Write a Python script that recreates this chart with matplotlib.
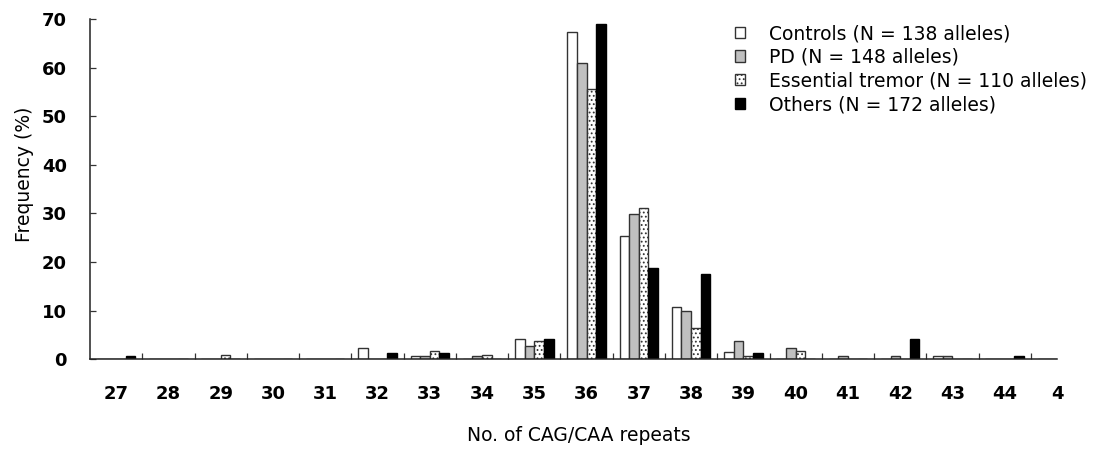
import numpy as np
import matplotlib
matplotlib.use('Agg')
import matplotlib.pyplot as plt
from matplotlib.ticker import FixedLocator

# CAG/CAA repeat sizes and allele frequencies (%) per group
repeats = list(range(27, 46))
tick_labels = [str(r) for r in repeats[:-1]] + ['4']   # last label is cut in the original

controls = [0, 0, 0, 0, 0, 2.3, 0.7, 0, 4.1, 67.4, 25.4, 10.7, 1.6, 0, 0, 0, 0.7, 0, 0]
pd_vals = [0, 0, 0, 0, 0, 0, 0.7, 0.7, 2.8, 60.9, 29.9, 9.9, 3.8, 2.4, 0.7, 0.7, 0.7, 0, 0]
tremor = [0, 0, 0.9, 0, 0, 0, 1.8, 0.9, 3.7, 55.7, 31.1, 6.4, 0.7, 1.7, 0, 0, 0, 0, 0]
others = [0.6, 0, 0, 0, 0, 1.3, 1.3, 0, 4.1, 68.9, 18.8, 17.5, 1.3, 0, 0, 4.1, 0, 0.6, 0]

labels = ['Controls (N = 138 alleles)', 'PD (N = 148 alleles)',
          'Essential tremor (N = 110 alleles)', 'Others (N = 172 alleles)']

plt.rcParams['hatch.linewidth'] = 0.8
plt.rcParams['hatch.color'] = 'black'

fig = plt.figure(figsize=(10.94, 4.5), dpi=100)
ax = fig.add_axes([90 / 1094, 1 - 359.3 / 450, 967 / 1094, 340.3 / 450])

x = np.array(repeats, dtype=float)
w = 0.184
edge = '#333333'
ax.bar(x - 1.5 * w, controls, w, color='white', edgecolor=edge, linewidth=1.0, label=labels[0])
ax.bar(x - 0.5 * w, pd_vals, w, color='#c0c0c0', edgecolor=edge, linewidth=1.0, label=labels[1])
ax.bar(x + 0.5 * w, tremor, w, color='white', edgecolor=edge, linewidth=1.0,
       hatch='....', label=labels[2])
ax.bar(x + 1.5 * w, others, w, color='black', edgecolor='black', linewidth=1.0, label=labels[3])

ax.set_xlim(26.5, 45.0)
ax.set_ylim(0, 70)
ax.set_yticks(range(0, 71, 10))

ax.set_xticks(x)
ax.set_xticklabels(tick_labels)
ax.xaxis.set_minor_locator(FixedLocator(np.arange(27.5, 45, 1.0)))
ax.tick_params(axis='x', which='major', length=0, pad=18.5)
ax.tick_params(axis='x', which='minor', direction='in', length=4.3, width=0.9, color='#333333')
ax.tick_params(axis='y', direction='in', length=4.3, width=0.9, color='#333333', pad=16.5)
for lab in ax.get_xticklabels() + ax.get_yticklabels():
    lab.set_fontsize(13)
    lab.set_fontweight('bold')

for side in ['top', 'right']:
    ax.spines[side].set_visible(False)
for side in ['left', 'bottom']:
    ax.spines[side].set_linewidth(1.1)
    ax.spines[side].set_color('#222222')

ax.set_xlabel('No. of CAG/CAA repeats', fontsize=13.5)
ax.xaxis.set_label_coords(0.505, -0.195)
ax.set_ylabel('Frequency (%)', fontsize=13.5)
ax.yaxis.set_label_coords(-0.058, 0.545)

ax.legend(loc='upper left', bbox_to_anchor=(735 / 1094, 1 - 24 / 450),
          bbox_transform=fig.transFigure, frameon=False, fontsize=13.5,
          borderpad=0, borderaxespad=0, handlelength=0.55, handleheight=0.55,
          handletextpad=1.25, labelspacing=0.25)

fig.savefig('out.png', dpi=100)
